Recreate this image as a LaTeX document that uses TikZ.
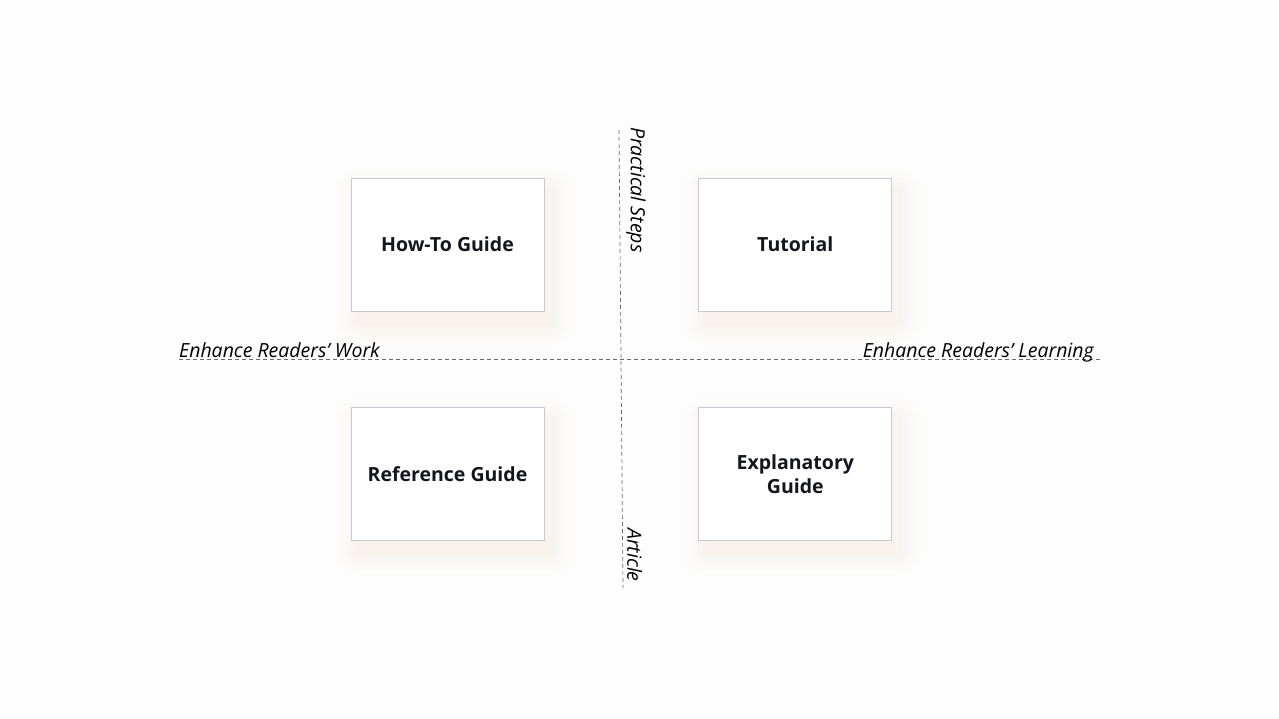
\documentclass[tikz,border=0pt]{standalone}
\usepackage{fontspec}
\setmainfont{Open Sans}
\usetikzlibrary{positioning,backgrounds}

\definecolor{pagebg}{HTML}{FDFDFD}
\definecolor{boxline}{HTML}{C8C8D4}
\definecolor{boxtext}{HTML}{14151F}
\definecolor{axisline}{HTML}{6A6A6A}
\definecolor{glow}{HTML}{F0D6B4}

\begin{document}
\begin{tikzpicture}[
        x=1pt, y=-1pt,
        node distance=96pt and 154pt,
        quad/.style={draw=boxline, line width=0.8pt, fill=white, minimum width=193pt, minimum height=133pt, align=center, text=boxtext, font=\fontsize{19.5}{24}\selectfont\bfseries},
        axis/.style={draw=axisline, line width=0.7pt, dash pattern=on 4pt off 3pt},
        axislabel/.style={font=\fontsize{19.5}{24}\selectfont\itshape, text=black, inner sep=0pt}
    ]
        \useasboundingbox (0,0) rectangle (1279,719);

        % Quadrant boxes
        \node[quad] (howto) at (447.5,244.5) {How-To Guide};
        \node[quad, right=of howto] (tutorial) {Tutorial};
        \node[quad, below=of howto] (reference) {Reference Guide};
        \node[quad, below=of tutorial] (explain) {Explanatory\\Guide};

        % page and soft glow behind the boxes
        \begin{scope}[on background layer]
        \fill[pagebg] (0,0) rectangle (1279,719);
        \foreach \b in {howto, tutorial, reference, explain} {
            \foreach \r/\o in {22/0.025, 17/0.03, 12/0.04, 7/0.05, 3/0.05} {
                \fill[glow, opacity=\o, rounded corners=\r pt]
                    ([xshift=-\r pt+7pt, yshift=\r pt-12pt]\b.north west)
                    rectangle ([xshift=\r pt+7pt, yshift=-\r pt-12pt]\b.south east);
            }
        }
        \end{scope}

        % Axes
        \coordinate (top) at (619,130);
        \coordinate (bottom) at (623,588);
        \coordinate (left) at (179,359);
        \coordinate (right) at (1101,359);
        \draw[axis] (top) -- (bottom);
        \draw[axis] (left) -- (right);

        % Axis labels
        \node[axislabel, rotate=-90, anchor=south west] (steps) at (626,127) {Practical Steps};
        \node[axislabel, rotate=-90, anchor=south west] (article) at (627,528) {Article};
        \node[axislabel, anchor=base west] (work) at (179,357) {Enhance Readers’ Work};
        \node[axislabel, anchor=base east] (learning) at (1094,357) {Enhance Readers’ Learning};

    \end{tikzpicture}
\end{document}
